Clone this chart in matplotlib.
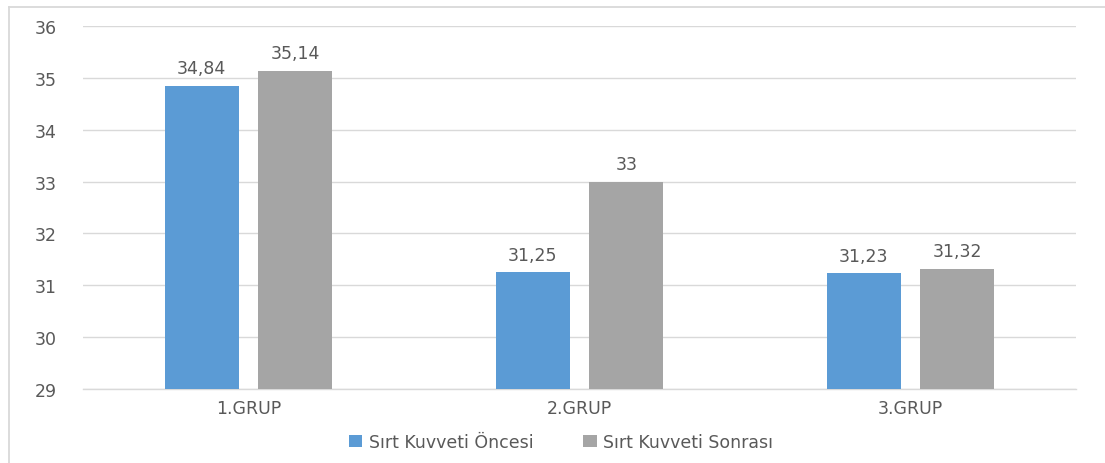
import numpy as np
import matplotlib.pyplot as plt
from matplotlib.lines import Line2D

groups = ["1.GRUP", "2.GRUP", "3.GRUP"]
before = [34.84, 31.25, 31.23]
after = [35.14, 33.00, 31.32]
before_lbl = ["34,84", "31,25", "31,23"]
after_lbl = ["35,14", "33", "31,32"]
series = ["Sırt Kuvveti Öncesi", "Sırt Kuvveti Sonrası"]

blue = "#5b9bd5"
gray = "#a5a5a5"
txt = "#595959"
grid = "#d9d9d9"
fs = 12.5

plt.rcParams['font.family'] = ['DejaVu Sans']

fig = plt.figure(figsize=(11.05, 4.64), dpi=100)
ax = fig.add_axes([83/1105, 1-390/464, 993/1105, 363/464])

x = np.arange(len(groups))
w = 0.2236
off = (w + 0.06) / 2
base = 29
b1 = ax.bar(x - off, np.array(before) - base, w, bottom=base, color=blue, label=series[0], zorder=3)
b2 = ax.bar(x + off, np.array(after) - base, w, bottom=base, color=gray, label=series[1], zorder=3)

for xi, v, s in zip(x - off, before, before_lbl):
    ax.text(xi, v + 0.17, s, ha='center', va='bottom', fontsize=fs, color=txt)
for xi, v, s in zip(x + off, after, after_lbl):
    ax.text(xi, v + 0.17, s, ha='center', va='bottom', fontsize=fs, color=txt)

ax.set_xlim(-0.5, 2.5)
ax.set_ylim(29, 36)
ax.set_yticks(range(29, 37))
ax.set_xticks(x)
ax.set_xticklabels(groups)
ax.yaxis.grid(True, color=grid, linewidth=1, zorder=0)
for s in ax.spines.values():
    s.set_visible(False)
ax.spines['bottom'].set_visible(True)
ax.spines['bottom'].set_color(grid)
ax.spines['bottom'].set_linewidth(1)
ax.tick_params(axis='y', length=0, pad=19, labelsize=fs, labelcolor=txt)
ax.tick_params(axis='x', length=0, pad=7, labelsize=fs, labelcolor=txt)

fig.legend(handles=[b1, b2], labels=series, loc='center', ncol=2,
           bbox_to_anchor=(561/1105, 1-443/464), frameon=False,
           fontsize=fs, labelcolor=txt, handlelength=0.75, handleheight=0.75,
           columnspacing=2.9, handletextpad=0.35)

# outer chart frame (top and left visible)
fig.add_artist(Line2D([9/1105, 1], [1-8/464, 1-8/464], color=grid, lw=1.3))
fig.add_artist(Line2D([9/1105, 9/1105], [0, 1-8/464], color=grid, lw=1.3))

fig.savefig("out.png", dpi=100)
